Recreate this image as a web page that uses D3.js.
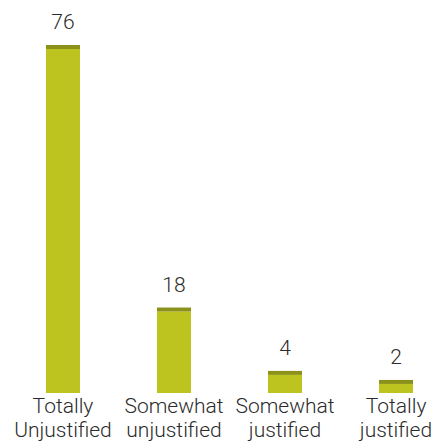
<!DOCTYPE html>
<html>
<head>
<meta charset="utf-8">
<script src="https://cdn.jsdelivr.net/npm/d3@7"></script>
<style>
  html, body { margin: 0; padding: 0; background: #ffffff; }
  svg { display: block; }
  text { font-family: Roboto, "Noto Sans", sans-serif; font-weight: 300; fill: #2b2b2b; }
</style>
</head>
<body>
<svg id="chart" width="433" height="441"></svg>
<script>
// Survey answers and their percentages
const categories = ["Totally Unjustified", "Somewhat unjustified", "Somewhat justified", "Totally justified"];
const categoryLines = [["Totally", "Unjustified"], ["Somewhat", "unjustified"], ["Somewhat", "justified"], ["Totally", "justified"]];
const values = [76, 18, 4, 2];

const svg = d3.select("#chart");
const baseline = 393;
const capHeight = 4;

const x = d3.scaleBand()
  .domain(categories)
  .range([46, 413])
  .paddingInner(0.694)
  .paddingOuter(0);

const y = d3.scaleLinear()
  .domain([0, 76])
  .range([baseline, 49]);

const data = categories.map((c, i) => ({ cat: c, value: values[i], lines: categoryLines[i] }));

// main bar body
svg.selectAll("rect.bar")
  .data(data)
  .join("rect")
  .attr("class", "bar")
  .attr("x", d => x(d.cat))
  .attr("y", d => y(d.value))
  .attr("width", x.bandwidth())
  .attr("height", d => baseline - y(d.value))
  .attr("fill", "#bdc31f");

// darker cap on top of each bar
svg.selectAll("rect.cap")
  .data(data)
  .join("rect")
  .attr("class", "cap")
  .attr("x", d => x(d.cat))
  .attr("y", d => y(d.value) - capHeight)
  .attr("width", x.bandwidth())
  .attr("height", capHeight)
  .attr("fill", "#8b9119");

// value labels
svg.selectAll("text.value")
  .data(data)
  .join("text")
  .attr("class", "value")
  .attr("x", d => x(d.cat) + x.bandwidth() / 2)
  .attr("y", d => y(d.value) - capHeight - 16)
  .attr("text-anchor", "middle")
  .attr("font-size", 21)
  .text(d => d.value);

// category labels, two lines each
const cat = svg.selectAll("text.cat")
  .data(data)
  .join("text")
  .attr("class", "cat")
  .attr("text-anchor", "middle")
  .attr("font-size", 21)
  .attr("x", d => x(d.cat) + x.bandwidth() / 2)
  .attr("y", 413);

cat.selectAll("tspan")
  .data(d => d.lines.map((t, i) => ({ t, i, cx: x(d.cat) + x.bandwidth() / 2 })))
  .join("tspan")
  .attr("x", d => d.cx)
  .attr("dy", d => d.i === 0 ? 0 : 24)
  .text(d => d.t);
</script>
</body>
</html>
